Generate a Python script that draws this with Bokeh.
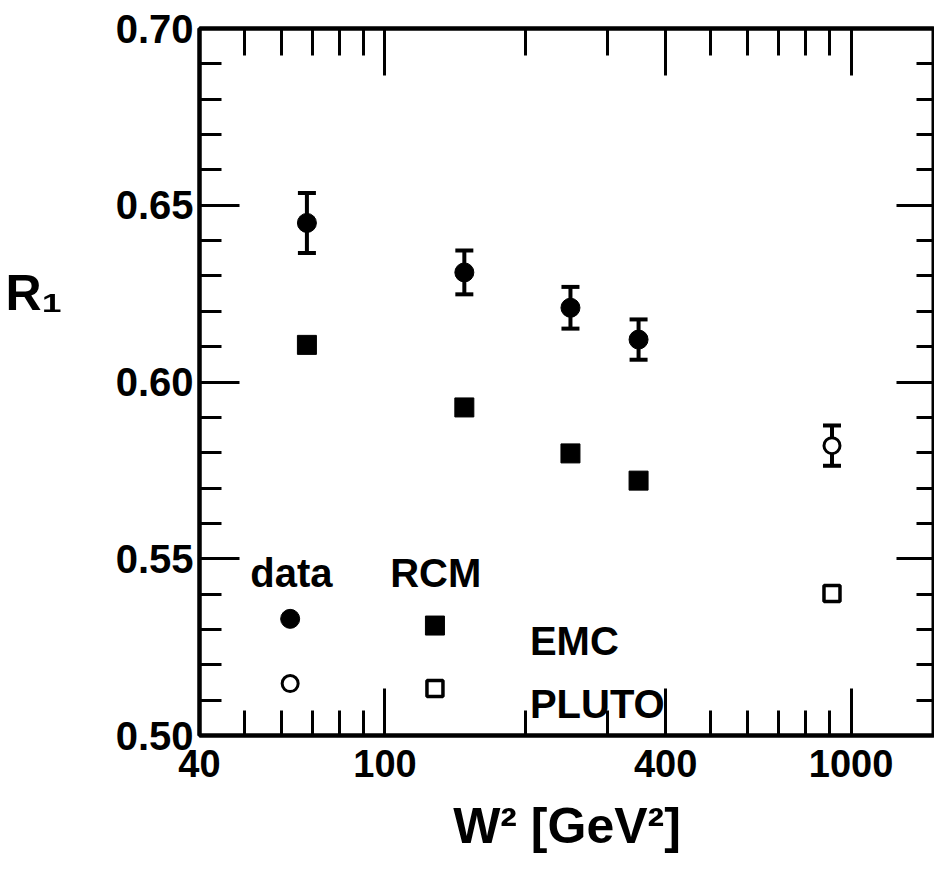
from bokeh.plotting import figure
from bokeh.models import (FixedTicker, LogAxis, LinearAxis, Whisker, TeeHead,
                          ColumnDataSource, Label, Range1d, PrintfTickFormatter,
                          BasicTickFormatter)
from bokeh.embed import file_html
from bokeh.resources import INLINE
from bokeh.core.properties import value

# ---------------- data ----------------
emc_w2 = [68, 148, 250, 350]
emc_r1 = [0.645, 0.631, 0.621, 0.612]
emc_err = [0.0085, 0.0062, 0.0059, 0.0057]

pluto_w2 = [910]
pluto_r1 = [0.582]
pluto_err = [0.0057]

rcm_emc_w2 = [68, 148, 250, 350]
rcm_emc_r1 = [0.6105, 0.5928, 0.5798, 0.5721]

rcm_pluto_w2 = [910]
rcm_pluto_r1 = [0.5402]

x_major = [40, 100, 400, 1000]
x_labels = ["40", "100", "400", "1000"]
x_minor = [50, 60, 70, 80, 90, 200, 300, 500, 600, 700, 800, 900]

y_major = [0.50, 0.55, 0.60, 0.65, 0.70]
y_labels = ["0.50", "0.55", "0.60", "0.65", "0.70"]
y_minor = [0.51, 0.52, 0.53, 0.54, 0.56, 0.57, 0.58, 0.59,
           0.61, 0.62, 0.63, 0.64, 0.66, 0.67, 0.68, 0.69]

# legend (key) texts and positions, in data coordinates
key_head_text = ["data", "RCM"]
key_head_x = [51.4, 102.6]
key_head_y = [0.5461, 0.5461]
key_row_text = ["EMC", "PLUTO"]
key_row_x = [204.6, 204.6]
key_row_y = [0.5266, 0.5090]
key_data_x = 62.6
key_rcm_x = 128.0
key_emc_y = [0.5330, 0.5311]
key_pluto_y = [0.5147, 0.5133]

FONT = "Liberation Sans"

p = figure(width=934, height=866, x_axis_type="log",
           x_range=Range1d(40, 1510), y_range=Range1d(0.50, 0.70),
           output_backend="svg", toolbar_location=None,
           min_border_left=199, min_border_right=0,
           min_border_top=28, min_border_bottom=131)
p.xgrid.visible = False
p.ygrid.visible = False
p.outline_line_color = "black"
p.outline_line_width = 4
p.background_fill_color = "white"
p.border_fill_color = "white"


def style_axis(ax, ticks, minor, lmaj, lmin, show_labels):
    ax.ticker = FixedTicker(ticks=ticks, minor_ticks=minor)
    ax.major_tick_in = lmaj
    ax.major_tick_out = 0
    ax.minor_tick_in = lmin
    ax.minor_tick_out = 0
    ax.major_tick_line_width = 3
    ax.minor_tick_line_width = 3
    ax.major_tick_line_color = "black"
    ax.minor_tick_line_color = "black"
    ax.axis_line_width = 4
    ax.axis_line_color = "black"
    if not show_labels:
        ax.major_label_overrides = {t: "" for t in ticks}
        ax.major_label_standoff = 0


# bottom axis
xb = p.xaxis[0]
style_axis(xb, x_major, x_minor, 47, 25, True)
xb.formatter = BasicTickFormatter(use_scientific=False)
xb.major_label_overrides = dict(zip(x_major, x_labels))
xb.major_label_text_font = FONT
xb.major_label_text_font_style = "bold"
xb.major_label_text_font_size = "38px"
xb.major_label_text_color = "black"
xb.major_label_standoff = 14
xb.axis_label = "W\u00b2 [GeV\u00b2]"
xb.axis_label_text_font = FONT
xb.axis_label_text_font_style = "bold"
xb.axis_label_text_font_size = "50px"
xb.axis_label_text_color = "black"
xb.axis_label_standoff = 18

# left axis
yl = p.yaxis[0]
style_axis(yl, y_major, y_minor, 40, 22, True)
yl.formatter = PrintfTickFormatter(format="%.2f")
yl.major_label_overrides = dict(zip(y_major, y_labels))
yl.major_label_text_font = FONT
yl.major_label_text_font_style = "bold"
yl.major_label_text_font_size = "40px"
yl.major_label_text_color = "black"
yl.major_label_standoff = 6

# top and right axes (ticks only)
xt = LogAxis()
style_axis(xt, x_major, x_minor, 47, 27, False)
p.add_layout(xt, "above")
yr = LinearAxis()
style_axis(yr, y_major, y_minor, 38, 18, False)
p.add_layout(yr, "right")

# ---------------- error bars ----------------
src_emc = ColumnDataSource(dict(x=emc_w2, y=emc_r1,
                                up=[v + e for v, e in zip(emc_r1, emc_err)],
                                lo=[v - e for v, e in zip(emc_r1, emc_err)]))
src_pl = ColumnDataSource(dict(x=pluto_w2, y=pluto_r1,
                               up=[v + e for v, e in zip(pluto_r1, pluto_err)],
                               lo=[v - e for v, e in zip(pluto_r1, pluto_err)]))
for src in (src_emc, src_pl):
    w = Whisker(source=src, base="x", upper="up", lower="lo", dimension="height",
                line_color="black", line_width=4,
                upper_head=TeeHead(size=18, line_width=4, line_color="black"),
                lower_head=TeeHead(size=18, line_width=4, line_color="black"))
    p.add_layout(w)

# ---------------- points ----------------
p.scatter(x="x", y="y", source=src_emc, marker="circle", size=19,
          fill_color="black", line_color="black")
p.scatter(x="x", y="y", source=src_pl, marker="circle", size=16,
          fill_color="white", line_color="black", line_width=3)
p.scatter(rcm_emc_w2, rcm_emc_r1, marker="square", size=19,
          fill_color="black", line_color="black")
p.scatter(rcm_pluto_w2, rcm_pluto_r1, marker="square", size=16,
          fill_color="white", line_color="black", line_width=3.5)

# ---------------- key ----------------
p.text(key_head_x, key_head_y, text=key_head_text, text_font=value(FONT),
       text_font_style="bold", text_font_size="40px", text_color="black",
       text_baseline="alphabetic", text_align="left")
p.text(key_row_x, key_row_y, text=key_row_text, text_font=value(FONT),
       text_font_style="bold", text_font_size="40px", text_color="black",
       text_baseline="alphabetic", text_align="left")
p.scatter([key_data_x], [key_emc_y[0]], marker="circle", size=19,
          fill_color="black", line_color="black")
p.scatter([key_rcm_x], [key_emc_y[1]], marker="square", size=19,
          fill_color="black", line_color="black")
p.scatter([key_data_x], [key_pluto_y[0]], marker="circle", size=16,
          fill_color="white", line_color="black", line_width=3)
p.scatter([key_rcm_x], [key_pluto_y[1]], marker="square", size=16,
          fill_color="white", line_color="black", line_width=3.5)

# y axis label, horizontal, in the left side panel
p.add_layout(Label(x=-50, y=443, x_units="screen", y_units="screen",
                   text="R\u2081", text_font=FONT,
                   text_font_style="bold", text_font_size="50px",
                   text_color="black", text_baseline="alphabetic",
                   text_align="left"), "left")

open("out.html", "w").write(file_html(p, INLINE))
